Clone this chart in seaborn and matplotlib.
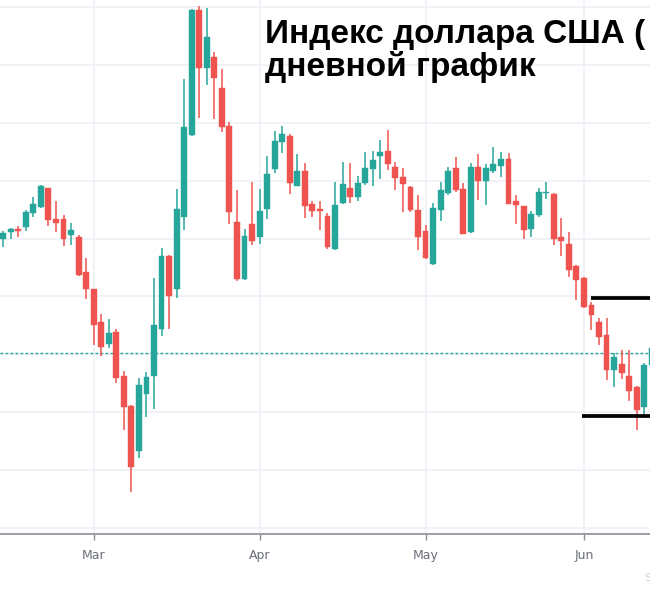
import numpy as np
import pandas as pd
import matplotlib
matplotlib.use("Agg")
import matplotlib.pyplot as plt
import seaborn as sns

# ---- Data: US dollar index, daily candles ----
dates = pd.bdate_range("2020-02-13", periods=87)
opens = [98.99, 99.11, 99.17, 99.20, 99.44, 99.54, 99.88, 99.34, 99.34, 99.06,
         99.02, 98.42, 98.12, 97.56, 97.17, 97.39, 96.63, 96.11, 95.33, 96.31,
         96.63, 97.44, 98.70, 98.13, 99.37, 100.78, 102.95, 101.95, 102.13, 101.60,
         100.95, 99.29, 98.30, 99.25, 99.02, 99.51, 100.20, 100.66, 100.77, 99.91,
         100.16, 99.60, 99.50, 99.39, 98.82, 99.62, 99.87, 99.71, 99.96, 100.20,
         100.43, 100.51, 100.23, 100.06, 99.89, 99.49, 99.13, 98.56, 99.49, 99.79,
         100.21, 99.85, 99.11, 100.24, 100.00, 100.17, 100.26, 100.37, 99.64, 99.56,
         99.17, 99.41, 99.78, 99.77, 99.02, 98.91, 98.53, 98.32, 97.85, 97.56,
         97.34, 96.73, 96.83, 96.63, 96.43, 96.09, 96.82]
highs = [99.13, 99.18, 99.22, 99.49, 99.72, 99.93, 99.88, 99.64, 99.40, 99.27,
         99.06, 98.66, 98.13, 97.69, 97.61, 97.43, 96.72, 96.12, 96.59, 96.70,
         98.31, 98.83, 98.71, 99.85, 101.75, 102.96, 103.02, 102.99, 102.23, 101.92,
         101.02, 99.83, 99.16, 99.97, 99.85, 100.43, 100.86, 100.94, 100.80, 100.46,
         100.31, 99.65, 99.65, 99.44, 99.98, 100.33, 100.31, 100.08, 100.49, 100.51,
         100.70, 100.88, 100.32, 100.21, 99.91, 99.75, 99.23, 99.61, 99.98, 100.23,
         100.40, 99.96, 100.30, 100.46, 100.28, 100.58, 100.49, 100.47, 99.75, 99.57,
         99.48, 99.88, 99.98, 99.78, 99.35, 99.11, 98.54, 98.34, 97.91, 97.63,
         97.62, 97.02, 97.08, 97.08, 96.45, 96.85, 97.16]
lows = [98.85, 98.99, 99.03, 99.13, 99.37, 99.52, 99.22, 99.12, 98.87, 98.89,
        98.35, 97.95, 97.16, 96.97, 97.11, 96.50, 95.69, 94.62, 95.21, 95.91,
        96.05, 97.31, 97.44, 97.98, 99.15, 100.77, 101.08, 101.65, 101.06, 100.84,
        99.25, 98.27, 98.28, 98.88, 98.90, 99.33, 100.14, 100.48, 99.77, 99.90,
        99.35, 99.37, 99.15, 98.82, 98.81, 99.60, 99.62, 99.65, 99.93, 99.90,
        100.02, 100.18, 99.84, 99.45, 99.45, 98.80, 98.64, 98.55, 99.30, 99.75,
        99.81, 99.07, 99.10, 99.66, 99.58, 100.14, 100.07, 99.59, 99.25, 99.00,
        99.02, 99.38, 99.68, 98.89, 98.70, 98.34, 97.93, 97.80, 97.42, 97.16,
        96.56, 96.43, 96.57, 96.20, 95.69, 95.95, 96.77]
closes = [99.10, 99.17, 99.13, 99.45, 99.60, 99.90, 99.32, 99.27, 98.99, 99.15,
          98.37, 98.12, 97.51, 97.12, 97.37, 96.59, 96.09, 95.05, 96.47, 96.60,
          97.51, 98.70, 98.00, 99.51, 100.92, 102.95, 101.95, 102.48, 101.78, 100.92,
          99.45, 98.30, 99.04, 98.95, 99.48, 100.11, 100.69, 100.80, 99.96, 100.17,
          99.56, 99.48, 99.48, 98.85, 99.58, 99.94, 99.71, 99.96, 100.21, 100.36,
          100.49, 100.29, 100.05, 99.94, 99.49, 99.03, 98.66, 99.53, 99.83, 100.17,
          99.83, 99.08, 100.24, 100.00, 100.21, 100.28, 100.37, 99.60, 99.58, 99.15,
          99.43, 99.81, 99.81, 99.00, 98.95, 98.45, 98.29, 97.81, 97.68, 97.30,
          96.73, 96.96, 96.68, 96.37, 96.03, 96.82, 97.11]
last_price = 97.02
level_top = 97.97
level_bottom = 95.94
title_text = "Индекс доллара США (\nдневной график"

UP, DOWN = "#26a69a", "#ef5350"

df = pd.DataFrame({"Date": dates, "Open": opens, "High": highs,
                   "Low": lows, "Close": closes})
df["x"] = np.arange(len(df))
df["up"] = df["Close"] >= df["Open"]
df["color"] = np.where(df["up"], UP, DOWN)
df["body_lo"] = df[["Open", "Close"]].min(axis=1)
df["body_h"] = (df["Open"] - df["Close"]).abs().clip(lower=0.025)

sns.set_theme(style="white")
plt.rcParams["font.family"] = ["DejaVu Sans"]

fig = plt.figure(figsize=(6.5, 6), dpi=100)
ax = fig.add_axes([0, 0.1108, 1, 0.8892])

# grid
for v in range(94, 104):
    ax.axhline(v, color="#eef0f6", lw=1.2, zorder=0)
month_start = df.index[df["Date"].dt.month != df["Date"].dt.month.shift()][1:]
for m in month_start:
    ax.axvline(m, color="#eef0f6", lw=1.2, zorder=0)

# candles
ax.vlines(df["x"], df["Low"], df["High"], colors=df["color"], lw=1.1, zorder=2)
ax.bar(df["x"], df["body_h"], bottom=df["body_lo"], width=0.78,
       color=df["color"], edgecolor=df["color"], linewidth=0.3, zorder=3)

# last price line and drawn levels
ax.axhline(last_price, color=UP, lw=1.0, ls=(0, (2, 1.6)), zorder=1)
ax.hlines(level_top, 78.0, 100, color="black", lw=2.7, zorder=4)
ax.hlines(level_bottom, 76.7, 100, color="black", lw=2.7, zorder=4)

ax.set_xlim(-0.42, 85.76)
ax.set_ylim(93.905, 103.12)
ax.set_yticks([])
ax.set_xticks(list(month_start))
ax.set_xticklabels([d.strftime("%b") for d in df.loc[month_start, "Date"]])
ax.tick_params(axis="x", bottom=True, length=4, width=1, color="#8a8d96",
               labelcolor="#6a6e7a", labelsize=9, pad=7)
for s in ["top", "left", "right"]:
    ax.spines[s].set_visible(False)
ax.spines["bottom"].set_color("#8a8d96")
ax.spines["bottom"].set_linewidth(1.2)

fig.text(265 / 650, 1 - 19 / 600, title_text, ha="left", va="top",
         fontsize=24, fontweight="bold", family=["Liberation Sans", "DejaVu Sans"],
         color="black", linespacing=1.04)
fig.text(644 / 650, 1 - 578 / 600, "S", ha="left", va="center",
         fontsize=8, color="#d9d2c5")

fig.savefig("out.png", dpi=100)
